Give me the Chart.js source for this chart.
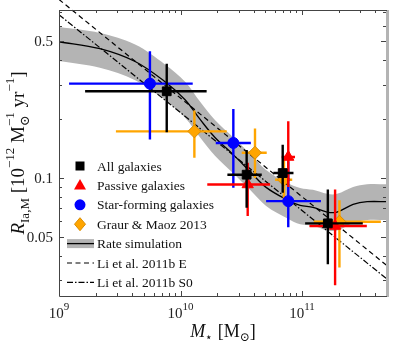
<!DOCTYPE html>
<html><head><meta charset="utf-8">
<script src="https://cdn.jsdelivr.net/npm/chart.js@4/dist/chart.umd.min.js"></script>
<style>html,body{margin:0;padding:0;background:#fff}canvas{display:block}</style>
</head><body>
<canvas id="c" width="395" height="345"></canvas>
<script>
// ---------- data ----------
// All galaxies (black squares)
const allMass  = [7.7e9, 3.5e10, 6.93e10, 1.63e11];
const allRate  = [0.277, 0.104, 0.106, 0.0587];
const allMlo   = [1.64e9, 2.43e10, 5.8e10, 1.06e11];
const allMhi   = [1.64e10, 4.66e10, 8.5e10, 3.16e11];
const allRlo   = [0.171, 0.0705, 0.084, 0.0363];
const allRhi   = [0.383, 0.139, 0.148, 0.0875];
// Passive galaxies (red triangles)
const pasMass  = [3.57e10, 7.7e10, 1.87e11];
const pasRate  = [0.0927, 0.128, 0.0569];
const pasMlo   = [1.66e10, 6.8e10, 1.15e11];
const pasMhi   = [5.46e10, 8.75e10, 3.41e11];
const pasRlo   = [0.064, 0.09, 0.0284];
const pasRhi   = [0.1197, 0.195, 0.0875];
// Star-forming galaxies (blue circles)
const sfMass   = [5.6e9, 2.72e10, 7.7e10];
const sfRate   = [0.303, 0.151, 0.0762];
const sfMlo    = [1.21e9, 1.95e10, 5.06e10];
const sfMhi    = [1.26e10, 3.79e10, 1.43e11];
const sfRlo    = [0.157, 0.0893, 0.0561];
const sfRhi    = [0.443, 0.225, 0.1216];
// Graur & Maoz 2013 (orange diamonds)
const gmMass   = [1.30e10, 4.1e10, 7.1e10, 2.03e11];
const gmRate   = [0.173, 0.1346, 0.098, 0.0598];
const gmMlo    = [2.94e9, 3.19e10, 6.0e10, 1.25e11];
const gmMhi    = [2.4e10, 5.12e10, 8.3e10, 4.45e11];
const gmRlo    = [0.127, 0.10, 0.078, 0.0349];
const gmRhi    = [0.221, 0.179, 0.129, 0.077];
// Rate simulation (line + band)
const simMass  = [1e9, 2.17e9, 4.23e9, 7.45e9, 1.09e10, 1.45e10, 1.92e10, 2.70e10, 3.73e10, 5.06e10, 7.67e10, 9.64e10, 1.23e11, 1.61e11, 1.94e11, 2.63e11, 3.43e11, 5.0e11];
const simRate  = [0.496, 0.457, 0.393, 0.310, 0.251, 0.199, 0.161, 0.132, 0.108, 0.0896, 0.0769, 0.0725, 0.0708, 0.0670, 0.0670, 0.0733, 0.0757, 0.0757];
const simHigh  = [0.59, 0.55, 0.48, 0.38, 0.31, 0.245, 0.198, 0.162, 0.133, 0.110, 0.094, 0.089, 0.087, 0.083, 0.083, 0.090, 0.093, 0.093];
const simLow   = [0.395, 0.365, 0.315, 0.250, 0.203, 0.161, 0.130, 0.106, 0.087, 0.072, 0.062, 0.058, 0.057, 0.054, 0.054, 0.059, 0.061, 0.061];
// Li et al. 2011b lines
const liMass   = [1e9, 5e11];
const liERate  = [0.815, 0.0357];
const liS0Rate = [0.681, 0.0305];
// axes
const xMin = 1e9, xMax = 5e11, yMin = 0.025, yMax = 0.72;
const xTickValues = [1e9, 1e10, 1e11];
const xTickExps = ['9', '10', '11'];
const xMinorTicks = [2e9,3e9,4e9,5e9,6e9,7e9,8e9,9e9,2e10,3e10,4e10,5e10,6e10,7e10,8e10,9e10,2e11,3e11,4e11];
const yTickValues = [0.05, 0.1, 0.5];
const yTickLabels = ['0.05', '0.1', '0.5'];
const yMinorTicks = [0.03,0.04,0.06,0.07,0.08,0.09,0.2,0.3,0.4,0.6,0.7];
const legendLabels = ['All galaxies','Passive galaxies','Star-forming galaxies','Graur & Maoz 2013','Rate simulation','Li et al. 2011b E','Li et al. 2011b S0'];

// ---------- helpers ----------
function pts(xs, ys){ return xs.map((v,i)=>({x:v, y:ys[i]})); }
function errSegs(M,R,Mlo,Mhi,Rlo,Rhi){
  const d=[];
  for(let i=0;i<M.length;i++){
    d.push({x:Mlo[i],y:R[i]},{x:Mhi[i],y:R[i]},{x:M[i],y:null},
           {x:M[i],y:Rlo[i]},{x:M[i],y:Rhi[i]},{x:M[i],y:null});
  }
  return d;
}
const SERIF = "'Liberation Serif','DejaVu Serif',serif";
function fontOf(r){ return (r.it?'italic ':'') + r.s + 'px ' + SERIF; }
function runsWidth(ctx, runs){
  let w=0, pend=0;
  for(const r of runs){ ctx.font=fontOf(r); const m=ctx.measureText(r.t).width;
    if(r.keep){ pend=m; } else { w+=Math.max(m,pend); pend=0; } }
  return w;
}
function drawRuns(ctx, runs, cx, base){
  const w=runsWidth(ctx,runs); let x=cx-w/2, pend=0;
  ctx.textAlign='left'; ctx.textBaseline='alphabetic';
  for(const r of runs){ ctx.font=fontOf(r); const m=ctx.measureText(r.t).width;
    ctx.fillText(r.t, x, base+(r.dy||0));
    if(r.keep){ pend=m; } else { x+=Math.max(m,pend); pend=0; } }
}

const ORANGE='#ffa500', BLUE='#0000ff', RED='#ff0000';

const frame = {
  id:'frame',
  afterDraw(chart){
    const {ctx, chartArea:a, scales:{x, y}} = chart;
    ctx.save();
    // right border (gray)
    ctx.fillStyle='#b4b4b4';
    ctx.fillRect(a.right-1, a.top, 3, a.bottom-a.top+1);
    // axes lines
    ctx.strokeStyle='#444'; ctx.lineWidth=1;
    ctx.beginPath();
    ctx.moveTo(a.left+0.5, a.top+0.5); ctx.lineTo(a.left+0.5, a.bottom+0.5);
    ctx.lineTo(a.right, a.bottom+0.5);
    ctx.moveTo(a.left+0.5, a.top+0.5); ctx.lineTo(a.right, a.top+0.5);
    ctx.stroke();
    // ticks
    ctx.beginPath();
    const xt=(v,len)=>{ const p=Math.round(x.getPixelForValue(v))+0.5;
      ctx.moveTo(p,a.bottom); ctx.lineTo(p,a.bottom-len);
      ctx.moveTo(p,a.top); ctx.lineTo(p,a.top+len); };
    const yt=(v,len)=>{ const p=Math.round(y.getPixelForValue(v))+0.5;
      ctx.moveTo(a.left,p); ctx.lineTo(a.left+len,p);
      ctx.moveTo(a.right-1,p); ctx.lineTo(a.right-1-len,p); };
    xTickValues.forEach(v=>xt(v,5)); xMinorTicks.forEach(v=>xt(v,3));
    yTickValues.forEach(v=>yt(v,5)); yMinorTicks.forEach(v=>yt(v,3));
    ctx.stroke();
    // tick labels
    ctx.fillStyle='#222';
    xTickValues.forEach((v,i)=>{
      const p=x.getPixelForValue(v);
      drawRuns(ctx,[{t:'10',s:15},{t:xTickExps[i],s:11,dy:-8}], p, 318);
    });
    ctx.font='15px '+SERIF; ctx.textAlign='right'; ctx.textBaseline='middle';
    yTickValues.forEach((v,i)=>{ ctx.fillText(yTickLabels[i], a.left-6, y.getPixelForValue(v)+1); });
    // axis titles
    ctx.fillStyle='#111';
    drawRuns(ctx,[{t:'M',s:18,it:true},{t:'⋆',s:12,dy:4},{t:' [M',s:18},{t:'⊙',s:12,dy:4},{t:']',s:18}], (a.left+a.right)/2, 337);
    ctx.save();
    ctx.translate(24, (a.top+a.bottom)/2); ctx.rotate(-Math.PI/2);
    drawRuns(ctx,[{t:'R',s:19,it:true},{t:'Ia,M',s:13,dy:5},{t:' [10',s:19},{t:'−12',s:13,dy:-10},
      {t:' M',s:19},{t:'⊙',s:13,dy:5,keep:true},{t:'−1',s:13,dy:-10},{t:' yr',s:19},{t:'−1',s:13,dy:-10},{t:']',s:19}],0,0);
    ctx.restore();
    // legend
    const lx=80, tx=97, y0=166, dy=19.4;
    legendLabels.forEach((lab,i)=>{
      const cy=y0+i*dy;
      ctx.save();
      if(i===0){ ctx.fillStyle='#000'; ctx.fillRect(lx-4.5,cy-4.5,9,9); }
      else if(i===1){ ctx.fillStyle=RED; ctx.beginPath(); ctx.moveTo(lx,cy-6.5); ctx.lineTo(lx+6,cy+4); ctx.lineTo(lx-6,cy+4); ctx.closePath(); ctx.fill(); }
      else if(i===2){ ctx.fillStyle=BLUE; ctx.beginPath(); ctx.arc(lx,cy,5.5,0,Math.PI*2); ctx.fill(); }
      else if(i===3){ ctx.fillStyle=ORANGE; ctx.strokeStyle='#d98c00'; ctx.lineWidth=1; ctx.beginPath(); ctx.moveTo(lx,cy-6.5); ctx.lineTo(lx+5.5,cy); ctx.lineTo(lx,cy+6.5); ctx.lineTo(lx-5.5,cy); ctx.closePath(); ctx.fill(); ctx.stroke(); }
      else if(i===4){ ctx.fillStyle='#b4b4b4'; ctx.fillRect(67,cy-4.5,27,9); ctx.strokeStyle='#000'; ctx.lineWidth=1.3; ctx.beginPath(); ctx.moveTo(67,cy); ctx.lineTo(94,cy); ctx.stroke(); }
      else if(i===5){ ctx.strokeStyle='#000'; ctx.lineWidth=1.2; ctx.setLineDash([5,3.5]); ctx.beginPath(); ctx.moveTo(67,cy); ctx.lineTo(94,cy); ctx.stroke(); }
      else { ctx.strokeStyle='#000'; ctx.lineWidth=1.2; ctx.setLineDash([6,2,1.5,2]); ctx.beginPath(); ctx.moveTo(67,cy); ctx.lineTo(94,cy); ctx.stroke(); }
      ctx.restore();
      ctx.fillStyle='#111'; ctx.font='13.5px '+SERIF; ctx.textAlign='left'; ctx.textBaseline='middle';
      ctx.fillText(lab, tx, cy+1);
    });
    ctx.restore();
  }
};

const errBase = {showLine:true, pointRadius:0, borderWidth:2.4, fill:false, tension:0, borderCapStyle:'butt'};
const ptBase = {showLine:false, borderWidth:1};

new Chart(document.getElementById('c'), {
  type:'scatter',
  data:{datasets:[
    {data:pts(simMass,simHigh), showLine:true, pointRadius:0, borderColor:'rgba(0,0,0,0)', backgroundColor:'#b4b4b4', fill:'+1', tension:0.35, order:101},
    {data:pts(simMass,simLow), showLine:true, pointRadius:0, borderColor:'rgba(0,0,0,0)', fill:false, tension:0.35, order:100},
    {data:pts(simMass,simRate), showLine:true, pointRadius:0, borderColor:'#000', borderWidth:1.3, fill:false, tension:0.35, order:90},
    {data:pts(liMass,liERate), showLine:true, pointRadius:0, borderColor:'#000', borderWidth:1.2, borderDash:[5,3.5], fill:false, order:80, clip:{left:0,top:12,right:0,bottom:0}},
    {data:pts(liMass,liS0Rate), showLine:true, pointRadius:0, borderColor:'#000', borderWidth:1.2, borderDash:[6,2,1.5,2], fill:false, order:81, clip:{left:0,top:12,right:0,bottom:0}},
    Object.assign({data:errSegs(gmMass,gmRate,gmMlo,gmMhi,gmRlo,gmRhi), borderColor:ORANGE, order:70}, errBase),
    Object.assign({data:pts(gmMass,gmRate), pointStyle:'rectRot', pointRadius:6.5, backgroundColor:ORANGE, borderColor:'#d98c00', order:69}, ptBase),
    Object.assign({data:errSegs(sfMass,sfRate,sfMlo,sfMhi,sfRlo,sfRhi), borderColor:BLUE, order:60}, errBase),
    Object.assign({data:pts(sfMass,sfRate), pointStyle:'circle', pointRadius:5.5, backgroundColor:BLUE, borderColor:BLUE, order:59}, ptBase),
    Object.assign({data:errSegs(pasMass,pasRate,pasMlo,pasMhi,pasRlo,pasRhi), borderColor:RED, order:50}, errBase),
    Object.assign({data:pts(pasMass,pasRate), pointStyle:'triangle', pointRadius:6.5, backgroundColor:RED, borderColor:RED, order:49}, ptBase),
    Object.assign({data:errSegs(allMass,allRate,allMlo,allMhi,allRlo,allRhi), borderColor:'#000', order:40}, errBase),
    Object.assign({data:pts(allMass,allRate), pointStyle:'rect', pointRadius:6.2, backgroundColor:'#000', borderColor:'#000', order:39}, ptBase)
  ]},
  options:{
    responsive:false, animation:false, events:[],
    layout:{padding:{left:59, top:10, right:8, bottom:49}},
    scales:{
      x:{type:'logarithmic', min:xMin, max:xMax, display:false},
      y:{type:'logarithmic', min:yMin, max:yMax, display:false}
    },
    plugins:{legend:{display:false}, tooltip:{enabled:false}}
  },
  plugins:[frame]
});
</script>
</body></html>
